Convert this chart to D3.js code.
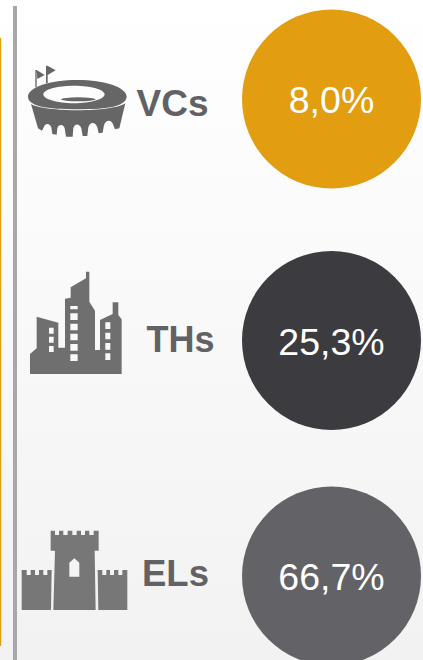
<!DOCTYPE html>
<html><head><meta charset="utf-8">
<script src="https://cdnjs.cloudflare.com/ajax/libs/d3/7.8.5/d3.min.js"></script>
<style>html,body{margin:0;padding:0;overflow:hidden}svg{display:block}</style>
</head><body><svg id="c" width="423" height="660"></svg>
<script>
const categories = ["VCs", "THs", "ELs"];
const shares = [8.0, 25.3, 66.7];
const colors = ["#e29d10", "#3c3b40", "#636266"];

const W = 423, H = 660;
const svg = d3.select("#c");
const defs = svg.append("defs");
const g = defs.append("linearGradient").attr("id","bg").attr("x1",0).attr("y1",0).attr("x2",0).attr("y2",1);
g.append("stop").attr("offset","0").attr("stop-color","#ffffff");
g.append("stop").attr("offset","1").attr("stop-color","#f2f2f2");
svg.append("rect").attr("width",W).attr("height",H).attr("fill","url(#bg)");

// rule lines
svg.append("rect").attr("x",0).attr("y",38).attr("width",1.2).attr("height",608).attr("fill","#e0a010");
svg.append("rect").attr("x",13).attr("y",6).attr("width",4).attr("height",654).attr("fill","#a8a8a8");

const cy = d3.scaleOrdinal().domain(categories).range([99, 340.5, 576]);
const labelX = d3.scaleOrdinal().domain(categories).range([136.5, 146.5, 142]);
const labelY = d3.scaleOrdinal().domain(categories).range([116, 351.5, 586]);
const labelSize = d3.scaleOrdinal().domain(categories).range([37, 36, 36.5]);
const valueY = d3.scaleOrdinal().domain(categories).range([113, 355, 590]);
const R = 89.5, CX = 331.5;
const fmt = v => d3.format(".1f")(v).replace(".", ",") + "%";
const rows = categories.map((c,i)=>({c, v:shares[i], col:colors[i]}));

svg.selectAll("circle.v").data(rows).join("circle").attr("class","v")
  .attr("cx",CX).attr("cy",d=>cy(d.c)).attr("r",R).attr("fill",d=>d.col);
svg.selectAll("text.v").data(rows).join("text").attr("class","v")
  .attr("x",CX).attr("y",d=>valueY(d.c)).attr("text-anchor","middle")
  .attr("font-family","'Liberation Sans',Arial,sans-serif").attr("font-size",37.5)
  .attr("fill","#fff").text(d=>fmt(d.v));
svg.selectAll("text.l").data(rows).join("text").attr("class","l")
  .attr("x",d=>labelX(d.c)).attr("y",d=>labelY(d.c))
  .attr("font-family","'Liberation Sans',Arial,sans-serif").attr("font-weight","bold")
  .attr("font-size",d=>labelSize(d.c)).attr("fill","#626266").text(d=>d.c);

// Icons, authored in 3x units
const stadium = svg.append("g").attr("transform","scale(0.3333)").attr("fill","#666666");
stadium.append("path").attr("fill-rule","evenodd")
  .attr("d","M84 290C84 262 150 240 232 240S380 262 380 290C380 305 360 315 340 320C300 330 165 330 125 320C100 314 84 305 84 290ZM130 283C130 297 170 310 222 310S314 297 314 283S274 257 222 257S130 269 130 283Z");
stadium.append("ellipse").attr("cx",235).attr("cy",298).attr("rx",52).attr("ry",6);
stadium.append("path").attr("d","M93 312C130 335 330 340 376 310L358 385L345 388L340 375C335 358 318 358 312 375L308 398L296 400L292 382C286 365 270 365 265 382L262 408L248 408L244 385C238 370 224 370 220 385L218 410L198 410L194 385C190 372 176 372 172 385L170 404L157 402L154 382C148 368 136 370 132 380L126 392L114 385Z");
stadium.append("path").attr("d","M106 210H110V262H106ZM110 210L134 225L112 237ZM138 197H143V250H138ZM142 197L167 211L143 225Z");

const city = svg.append("g").attr("transform","translate(0,250) scale(0.3333)").attr("fill","#6f6f6f");
const win = (x,w,ys,h)=>ys.map(y=>`M${x} ${y}h${w}v${h}h${-w}Z`).join("");
city.append("path").attr("fill-rule","evenodd")
  .attr("d","M90 372V312L110 295V200L175 218V293H195V146L212 143V112L258 85V65H268V155L285 182V300H300V210L338 192V157H355V195L365 208V372Z"
    + win(147,14,[233,260,288],18) + win(211,22,[168],10) + win(211,22,[190,221,251,282,313],20) + win(316,15,[217,248,279,310],20));

const castle = svg.append("g").attr("transform","translate(0,510) scale(0.3333)").attr("fill","#777777");
castle.append("path").attr("fill-rule","evenodd")
  .attr("d","M152 62H165V75H177V62H190V75H203V62H217V75H230V62H243V75H255V62H268V75H281V62H296V122H284L287 300H160L165 122H152ZM208 200H238V158L223 145L208 158Z");
castle.append("path").attr("d","M65 180H80V195H92V180H105V195H117V180H130V195H142V180H155L153 300H65Z");
castle.append("path").attr("d","M293 180H307V195H319V180H330V195H342V180H355V195H367V180H382V300H295Z");
</script></body></html>
